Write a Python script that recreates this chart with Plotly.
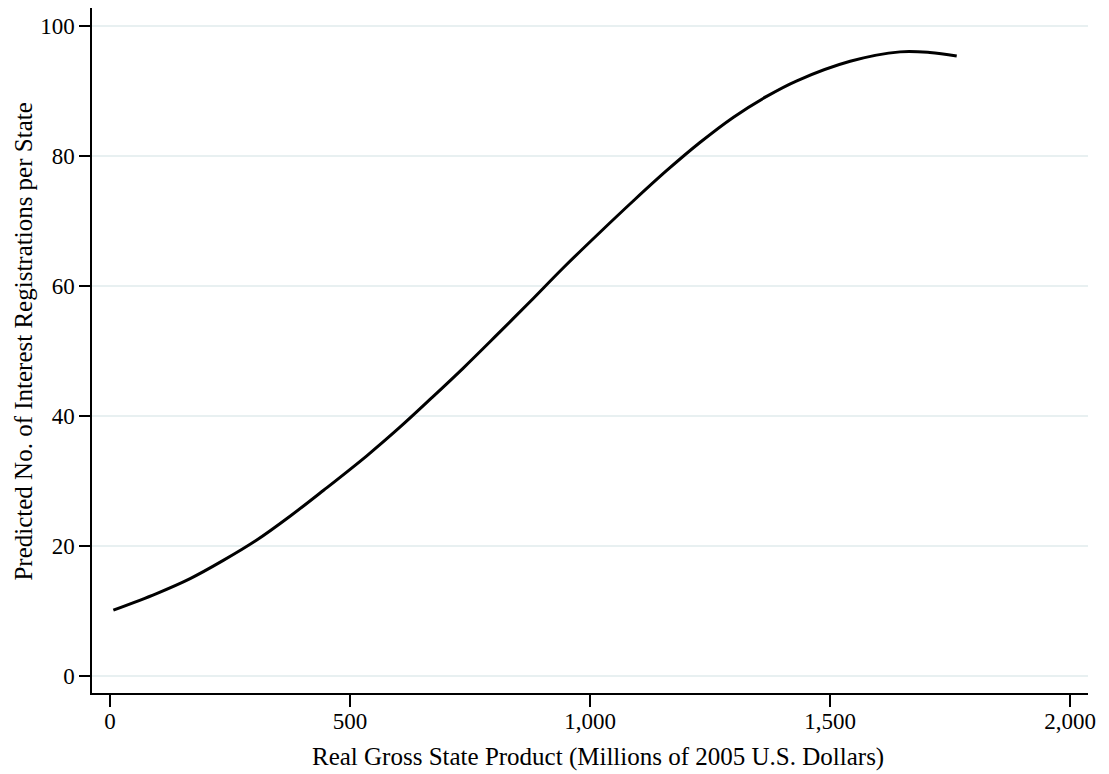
import plotly.graph_objects as go

# Real Gross State Product (millions of 2005 USD)
gsp = [7, 97, 167, 236, 305, 375, 445, 535, 604, 670, 736, 806, 875, 944,
       1021, 1090, 1160, 1229, 1299, 1368, 1431, 1542, 1646, 1708, 1764]
# Predicted number of interest registrations per state
predicted = [10.15, 12.7, 15.0, 17.8, 20.9, 24.6, 28.6, 33.9, 38.3, 42.8,
             47.4, 52.5, 57.6, 62.8, 68.3, 73.1, 77.8, 82.1, 86.0, 89.2,
             91.6, 94.6, 96.05, 95.95, 95.4]

x_ticks = [0, 500, 1000, 1500, 2000]
y_ticks = [0, 20, 40, 60, 80, 100]

x_title = "Real Gross State Product (Millions of 2005 U.S. Dollars)"
y_title = "Predicted No. of Interest Registrations per State"

FONT = "Liberation Serif, Times New Roman, serif"

fig = go.Figure()
fig.add_trace(go.Scatter(
    x=gsp, y=predicted, mode="lines",
    line=dict(color="black", width=3, shape="spline", smoothing=1.0),
    showlegend=False, hoverinfo="skip",
))

# page body has an 8px default margin, so the figure is 8px smaller than the window
fig.update_layout(
    width=1101, height=766,
    margin=dict(l=84, r=21, t=0, b=81),
    paper_bgcolor="white", plot_bgcolor="white",
    font=dict(family=FONT, color="black", size=22),
    xaxis=dict(
        range=[-37.5, 2037.5],
        tickvals=x_ticks, tickformat=",d",
        showgrid=False, zeroline=False,
        showline=True, linecolor="black", linewidth=1.5,
        ticks="outside", ticklen=12, tickwidth=1.5, tickcolor="black",
        tickfont=dict(size=23), ticklabelstandoff=-5,
    ),
    yaxis=dict(
        range=[-2.6, 102.8],
        tickvals=y_ticks,
        showgrid=True, gridcolor="#e8f0f1", gridwidth=1.5,
        zeroline=False,
        showline=True, linecolor="black", linewidth=1.5,
        ticks="outside", ticklen=11, tickwidth=1.5, tickcolor="black",
        tickfont=dict(size=23),
    ),
    annotations=[
        dict(text=x_title, xref="paper", yref="paper", x=0.508, y=-0.0934,
             xanchor="center", yanchor="middle", showarrow=False,
             font=dict(size=25)),
        dict(text=y_title, xref="paper", yref="paper", x=-0.0683, y=0.513,
             xanchor="center", yanchor="middle", showarrow=False,
             textangle=-90, font=dict(size=25)),
    ],
)

fig.write_html("out.html")
